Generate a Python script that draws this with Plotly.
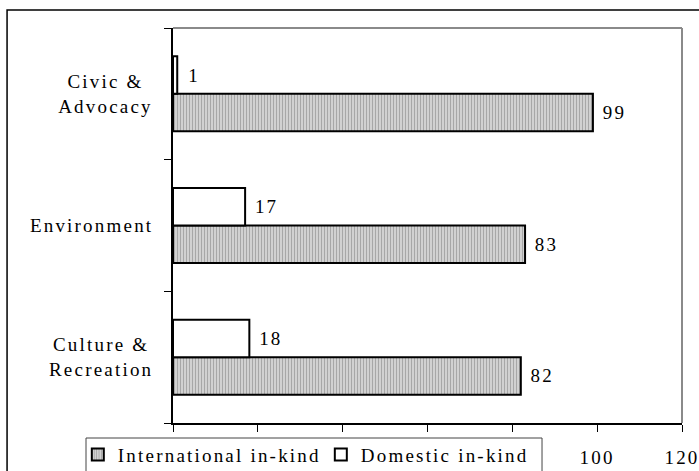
import plotly.graph_objects as go

# Share of in-kind support by field, per cent
categories = ["Culture &<br>Recreation", "Environment", "Civic &<br>Advocacy"]
international_inkind = [82, 83, 99]
domestic_inkind = [18, 17, 1]
x_tick_values = [0, 20, 40, 60, 80, 100, 120]
x_tick_labels = ["", "", "", "", "", "100", "120"]

serif = "Liberation Serif, Times New Roman, serif"
font_size = 19
letter_spacing = 2.2  # px, the text is set loosely tracked

fig = go.Figure()
fig.add_trace(go.Bar(
    name="International in-kind",
    y=categories, x=international_inkind, orientation="h",
    marker=dict(
        color="#d2d2d2",
        line=dict(color="black", width=2),
        pattern=dict(shape="|", fgcolor="#777777", bgcolor="#d6d6d6",
                     size=3, solidity=0.4),
    ),
    text=international_inkind, texttemplate="%{x}", textposition="outside",
    textfont=dict(family=serif, size=font_size, color="black"),
    cliponaxis=False,
))
fig.add_trace(go.Bar(
    name="Domestic in-kind",
    y=categories, x=domestic_inkind, orientation="h",
    marker=dict(color="white", line=dict(color="black", width=2)),
    text=domestic_inkind, texttemplate="%{x}", textposition="outside",
    textfont=dict(family=serif, size=font_size, color="black"),
    cliponaxis=False,
))

# Category labels, centred line by line, left of the value axis
for cat in categories:
    longest = max(len(line) for line in cat.split("<br>"))
    fig.add_annotation(
        x=0, xref="paper", y=cat, yref="y",
        xanchor="right", yanchor="middle",
        xshift=-(19 + letter_spacing * longest / 2 - letter_spacing),
        text=cat, showarrow=False, align="center",
        font=dict(family=serif, size=font_size, color="black"),
    )

# Outer frame, grey top/right edges of the plotting area, legend box
fig.add_shape(type="rect", xref="paper", yref="paper",
              x0=-0.326, x1=1.2, y0=-0.5, y1=1.0456,
              line=dict(color="black", width=1.5), layer="below")
fig.add_shape(type="line", xref="paper", yref="paper",
              x0=0, x1=1, y0=1, y1=1, line=dict(color="#8a8a8a", width=2))
fig.add_shape(type="line", xref="paper", yref="paper",
              x0=1, x1=1, y0=0, y1=1, line=dict(color="#8a8a8a", width=2))
fig.add_shape(type="rect", xref="paper", yref="paper",
              x0=-0.1709, x1=0.725, y0=-0.2, y1=-0.038,
              line=dict(color="#444444", width=1), fillcolor="white",
              layer="above")

fig.update_layout(
    width=699, height=471,
    margin=dict(l=173, r=17, t=28, b=48, autoexpand=False),
    paper_bgcolor="white", plot_bgcolor="white",
    barmode="group", bargap=0.43, bargroupgap=0,
    font=dict(family=serif, size=font_size, color="black"),
    showlegend=True,
    legend=dict(
        orientation="h", x=-0.187, xanchor="left", y=-0.032, yanchor="top",
        bgcolor="rgba(0,0,0,0)", borderwidth=0,
        entrywidth=198, entrywidthmode="pixels",
        font=dict(family=serif, size=font_size, color="black"),
        traceorder="normal",
    ),
    xaxis=dict(
        range=[0, 120], tickvals=x_tick_values, ticktext=x_tick_labels,
        showgrid=False, zeroline=False,
        showline=True, linecolor="black", linewidth=1.5,
        ticks="outside", ticklen=7, tickcolor="black", tickwidth=1,
        ticklabelstandoff=9,
        tickfont=dict(family=serif, size=font_size, color="black"),
    ),
    yaxis=dict(
        showgrid=False, zeroline=False, showticklabels=False,
        showline=True, linecolor="black", linewidth=2,
        ticks="outside", ticklen=7, tickcolor="black", tickwidth=1,
        tickson="boundaries",
    ),
)

# Loose tracking for every text; value labels nudged off the bar ends
post_script = """
(function(){
  var gd = document.getElementById('{plot_id}');
  function track(){
    gd.querySelectorAll('text').forEach(function(t){
      t.style.letterSpacing = '%spx';
    });
    gd.querySelectorAll('text.bartext').forEach(function(t){
      t.setAttribute('dx', '9');
    });
  }
  track();
  setTimeout(track, 30);
  setTimeout(track, 300);
})();
""" % letter_spacing

fig.write_html("out.html", post_script=post_script)
